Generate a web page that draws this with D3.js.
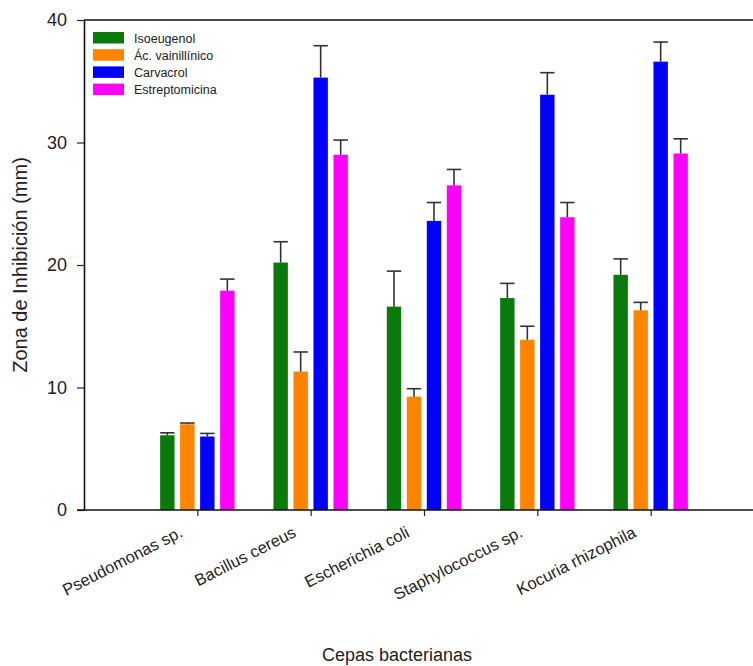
<!DOCTYPE html>
<html>
<head>
<meta charset="utf-8">
<script src="https://cdn.jsdelivr.net/npm/d3@7"></script>
<style>
  body { margin: 0; background: #fff; }
  svg { display: block; font-family: "Liberation Sans", Arial, sans-serif; }
</style>
</head>
<body>
<div id="chart"></div>
<script>
// data
const strains = ["Pseudomonas sp.", "Bacillus cereus", "Escherichia coli", "Staphylococcus sp.", "Kocuria rhizophila"];
const series = ["Isoeugenol", "Ác. vainillínico", "Carvacrol", "Estreptomicina"];
const colors = ["#0a7a0a", "#ff8400", "#0000ff", "#ff00ff"];

const isoeugenol = [6.1, 20.2, 16.6, 17.3, 19.2];
const isoeugenolErr = [0.2, 1.7, 2.9, 1.2, 1.3];
const vainillinico = [7.0, 11.3, 9.25, 13.9, 16.3];
const vainillinicoErr = [0.1, 1.6, 0.65, 1.1, 0.65];
const carvacrol = [6.0, 35.3, 23.6, 33.9, 36.6];
const carvacrolErr = [0.25, 2.6, 1.5, 1.8, 1.6];
const estreptomicina = [17.9, 29.0, 26.5, 23.9, 29.1];
const estreptomicinaErr = [0.95, 1.2, 1.3, 1.2, 1.2];

const yTicks = [0, 10, 20, 30, 40];

const values = [isoeugenol, vainillinico, carvacrol, estreptomicina];
const errors = [isoeugenolErr, vainillinicoErr, carvacrolErr, estreptomicinaErr];

const width = 753, height = 666;
const plotLeft = 84, plotTop = 20, plotBottom = 510;

const svg = d3.select("#chart").append("svg")
  .attr("width", width)
  .attr("height", height);

// categories sit at 1..5 on a 0..6 axis (axis runs off the right edge)
const x = d3.scaleLinear().domain([0, 6]).range([plotLeft, 764]);
const y = d3.scaleLinear().domain([0, 40]).range([plotBottom, plotTop]);
const xInner = d3.scaleBand().domain(series).range([-40, 40])
  .paddingInner(0.28).paddingOuter(0.14);

// bars
series.forEach((s, si) => {
  const g = svg.append("g");
  g.selectAll("rect")
    .data(values[si])
    .join("rect")
    .attr("x", (d, i) => x(i + 1) + xInner(s))
    .attr("width", xInner.bandwidth())
    .attr("y", d => y(d))
    .attr("height", d => y(0) - y(d))
    .attr("fill", colors[si]);

  // upper error bars only
  const eg = svg.append("g").attr("stroke", "#333").attr("stroke-width", 1.6);
  values[si].forEach((v, i) => {
    const cx = x(i + 1) + xInner(s) + xInner.bandwidth() / 2;
    const e = errors[si][i];
    eg.append("line")
      .attr("x1", cx).attr("x2", cx)
      .attr("y1", y(v)).attr("y2", y(v + e));
    eg.append("line")
      .attr("x1", cx - xInner.bandwidth() / 2).attr("x2", cx + xInner.bandwidth() / 2)
      .attr("y1", y(v + e)).attr("y2", y(v + e));
  });
});

// y axis
const yAxis = svg.append("g")
  .attr("transform", `translate(${plotLeft},0)`)
  .call(d3.axisLeft(y).tickValues(yTicks).tickSize(7).tickPadding(10).tickSizeOuter(0));
yAxis.select(".domain").attr("stroke", "#111").attr("stroke-width", 1.6);
yAxis.selectAll(".tick line").attr("stroke", "#222").attr("stroke-width", 1.2);
yAxis.selectAll("text").attr("font-size", 18).attr("fill", "#222")
  .attr("font-family", "Liberation Sans, Arial, sans-serif");

// top frame line
svg.append("line")
  .attr("x1", x(0)).attr("x2", width)
  .attr("y1", y(40)).attr("y2", y(40))
  .attr("stroke", "#111").attr("stroke-width", 1.6);

// x axis
const xAxis = svg.append("g")
  .attr("transform", `translate(0,${plotBottom})`)
  .call(d3.axisBottom(x).tickValues([1, 2, 3, 4, 5]).tickSize(6).tickSizeOuter(0)
    .tickFormat(d => strains[d - 1]));
xAxis.select(".domain").attr("d", `M${x(0) - 7},0H${width}`)
  .attr("stroke", "#111").attr("stroke-width", 1.6);
xAxis.selectAll(".tick line").attr("stroke", "#222").attr("stroke-width", 1.2);
xAxis.selectAll("text")
  .attr("font-size", 16.5)
  .attr("fill", "#222")
  .attr("font-family", "Liberation Sans, Arial, sans-serif")
  .attr("text-anchor", "end")
  .attr("dy", null)
  .attr("y", 0)
  .attr("transform", "translate(-14,26) rotate(-27)");

// axis titles
svg.append("text")
  .attr("transform", `translate(27,${(plotTop + plotBottom) / 2}) rotate(-90)`)
  .attr("text-anchor", "middle")
  .attr("font-size", 20)
  .attr("fill", "#222")
  .text("Zona de Inhibición (mm)");

svg.append("text")
  .attr("x", 397)
  .attr("y", 661)
  .attr("text-anchor", "middle")
  .attr("font-size", 18)
  .attr("fill", "#222")
  .text("Cepas bacterianas");

// legend
const legend = svg.append("g").attr("transform", "translate(93,32)");
series.forEach((s, i) => {
  legend.append("rect")
    .attr("x", 0).attr("y", i * 17.2)
    .attr("width", 31).attr("height", 11.5)
    .attr("fill", colors[i]);
  legend.append("text")
    .attr("x", 41).attr("y", i * 17.2 + 10.5)
    .attr("font-size", 12.5)
    .attr("fill", "#222")
    .text(s);
});
</script>
</body>
</html>
